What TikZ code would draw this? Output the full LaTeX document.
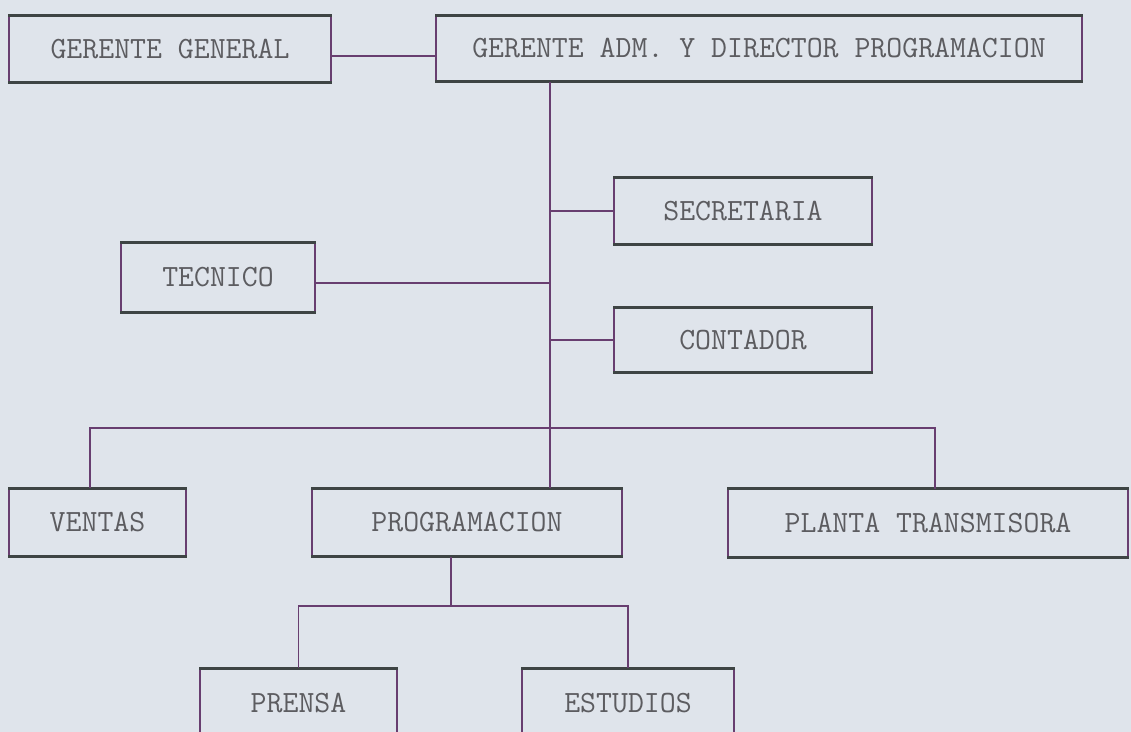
\documentclass[tikz,border=0pt]{standalone}
\usepackage{fontspec}
\usetikzlibrary{positioning}
\definecolor{paper}{RGB}{223,228,235}
\definecolor{ink}{RGB}{92,92,96}
\definecolor{ruledark}{RGB}{62,68,68}
\definecolor{linkpurple}{RGB}{104,62,112}

\begin{document}
\begin{tikzpicture}[
        box/.style={rectangle, draw=linkpurple, line width=1.1pt, font=\fontsize{22}{24}\selectfont\ttfamily, text=ink,
            append after command={(\tikzlastnode.north west) edge[draw=ruledark, line width=2.2pt] (\tikzlastnode.north east)
                (\tikzlastnode.south west) edge[draw=ruledark, line width=2.2pt] (\tikzlastnode.south east)}},
        link/.style={draw=linkpurple, line width=1.2pt}
    ]

        % Paper and margins
        \fill[paper] (0,0) rectangle (28.275,-18.3);
        \useasboundingbox (0,0) rectangle (28.275,-18.3);
        \clip (0,0) rectangle (28.275,-18.3);

        % Top management
        \node[box, minimum width=8.05cm, minimum height=1.65cm] (gg) at (4.25,-1.225) {GERENTE GENERAL};
        \node[box, minimum width=16.15cm, minimum height=1.625cm] (adm) at (18.975,-1.2125) {GERENTE ADM. Y DIRECTOR PROGRAMACION};

        % Staff
        \node[box, minimum width=6.45cm, minimum height=1.65cm] (sec) at (18.575,-5.275) {SECRETARIA};
        \node[box, minimum width=4.85cm, minimum height=1.725cm] (tec) at (5.45,-6.9375) {TECNICO};
        \node[box, minimum width=6.45cm, minimum height=1.6cm] (con) at (18.575,-8.5) {CONTADOR};

        % Departments
        \node[box, minimum width=4.425cm, minimum height=1.675cm] (ven) at (2.4375,-13.0625) {VENTAS};
        \node[box, minimum width=7.75cm, minimum height=1.675cm] (prog) at (11.675,-13.0625) {PROGRAMACION};
        \node[box, minimum width=10cm, minimum height=1.675cm] (plan) at (23.2,-13.075) {PLANTA TRANSMISORA};

        % Under programacion
        \node[box, minimum width=4.925cm, minimum height=1.7cm] (pren) at (7.4625,-17.575) {PRENSA};
        \node[box, minimum width=5.3cm, minimum height=1.7cm] (est) at (15.7,-17.575) {ESTUDIOS};

        \coordinate (bridge) at (0,-1.4);
        \coordinate (trunk) at (13.75,0);
        \coordinate (tecline) at (0,-7.07);
        \coordinate (bus) at (0,-10.7);
        \coordinate (drop) at (11.275,0);
        \coordinate (split) at (0,-15.15);

        % Links
        \draw[link] (gg.east |- bridge) -- (adm.west |- bridge);
        \draw[link] (adm.south -| trunk) -- (prog.north -| trunk);
        \draw[link] (sec.west) -- (sec.west -| trunk);
        \draw[link] (tec.east |- tecline) -- (trunk |- tecline);
        \draw[link] (con.west) -- (con.west -| trunk);
        \draw[link] ([xshift=-0.19cm]ven.north) -- ([xshift=-0.19cm]ven.north |- bus) -- ([xshift=0.17cm]plan.north |- bus) -- ([xshift=0.17cm]plan.north);
        \draw[link] (prog.south -| drop) -- (drop |- split);
        \draw[link] (pren.north) -- (pren.north |- split) -- (est.north |- split) -- (est.north);

    \end{tikzpicture}
\end{document}
